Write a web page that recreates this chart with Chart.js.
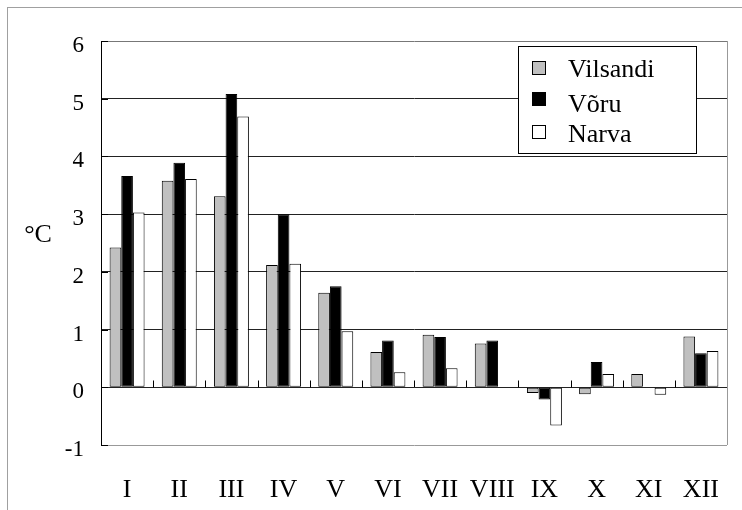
<!DOCTYPE html>
<html>
<head>
<meta charset="utf-8">
<script src="https://cdn.jsdelivr.net/npm/chart.js@4/dist/chart.umd.min.js"></script>
<style>
  html, body { margin: 0; padding: 0; background: #fff; }
  #wrap { position: relative; width: 742px; height: 510px; }
</style>
</head>
<body>
<div id="wrap"><canvas id="grafico"></canvas></div>
<script>
/* =======================================
   DATA
======================================= */
const meses = ["I", "II", "III", "IV", "V", "VI", "VII", "VIII", "IX", "X", "XI", "XII"];
const vilsandi = [2.42, 3.58, 3.31, 2.12, 1.64, 0.61, 0.91, 0.76, -0.10, -0.12, 0.23, 0.88];
const voru     = [3.66, 3.89, 5.08, 3.00, 1.75, 0.81, 0.87, 0.81, -0.21, 0.44, null, 0.59];
const narva    = [3.03, 3.61, 4.69, 2.14, 0.97, 0.26, 0.33, null, -0.66, 0.23, -0.13, 0.63];
const ticksY = [-1, 0, 1, 2, 3, 4, 5, 6];
const unidad = "°C";

const FUENTE = "'Liberation Serif', 'Times New Roman', serif";

/* =======================================
   PLUGINS
======================================= */
// outer frame, y title, inner ticks, right border, legend
const extras = {
  id: "extras",
  beforeDraw(chart) {
    const ctx = chart.ctx;
    ctx.save();
    ctx.strokeStyle = "#a0a0a0";
    ctx.lineWidth = 1;
    ctx.strokeRect(7.5, 7.5, 800, 600);
    ctx.restore();
  },
  afterDraw(chart) {
    const ctx = chart.ctx;
    const area = chart.chartArea;
    const y = chart.scales.y;
    ctx.save();

    // right border of plot
    ctx.strokeStyle = "#999";
    ctx.lineWidth = 1;
    ctx.beginPath();
    ctx.moveTo(Math.round(area.right) + 0.5, area.top);
    ctx.lineTo(Math.round(area.right) + 0.5, area.bottom);
    ctx.stroke();

    // y axis inner ticks
    ctx.strokeStyle = "#000";
    ticksY.forEach((v) => {
      const py = Math.round(y.getPixelForValue(v)) + 0.5;
      ctx.beginPath();
      ctx.moveTo(area.left, py);
      ctx.lineTo(area.left + 7, py);
      ctx.stroke();
    });

    // x ticks on the zero line, at category boundaries
    const y0 = Math.round(y.getPixelForValue(0)) + 0.5;
    const paso = (area.right - area.left) / meses.length;
    for (let i = 1; i < meses.length; i++) {
      const px = Math.round(area.left + i * paso) + 0.5;
      ctx.beginPath();
      ctx.moveTo(px, y0 - 7);
      ctx.lineTo(px, y0);
      ctx.stroke();
    }

    // y title (horizontal)
    ctx.fillStyle = "#000";
    ctx.font = "26px " + FUENTE;
    ctx.textAlign = "center";
    ctx.textBaseline = "middle";
    ctx.fillText(unidad, 38, 235);

    // legend
    ctx.fillStyle = "#fff";
    ctx.fillRect(518, 46, 178, 107);
    ctx.strokeStyle = "#000";
    ctx.strokeRect(518.5, 46.5, 178, 107);
    const marcas = [68, 99, 132];
    const bases = [77, 112, 142];
    chart.data.datasets.forEach((ds, i) => {
      const cy = marcas[i];
      ctx.fillStyle = ds.backgroundColor;
      ctx.fillRect(532, cy - 7, 14, 14);
      ctx.strokeStyle = "#000";
      ctx.strokeRect(532.5, cy - 6.5, 13, 13);
      ctx.fillStyle = "#000";
      ctx.font = "26px " + FUENTE;
      ctx.textAlign = "left";
      ctx.textBaseline = "alphabetic";
      ctx.fillText(ds.label, 568, bases[i]);
    });
    ctx.restore();
  }
};

/* =======================================
   CHART
======================================= */
const serie = (label, data, color) => ({
  label,
  data,
  backgroundColor: color,
  borderColor: "#000",
  borderWidth: 1,
  borderSkipped: false,
  categoryPercentage: 0.67,
  barPercentage: 1.0
});

new Chart(document.getElementById("grafico"), {
  type: "bar",
  data: {
    labels: meses,
    datasets: [
      serie("Vilsandi", vilsandi, "#c0c0c0"),
      serie("Võru", voru, "#000000"),
      serie("Narva", narva, "#ffffff")
    ]
  },
  options: {
    responsive: true,
    maintainAspectRatio: false,
    animation: false,
    layout: { padding: { top: 41, right: 15, left: 0, bottom: 0 } },
    plugins: {
      legend: { display: false },
      tooltip: { enabled: false }
    },
    scales: {
      x: {
        grid: { display: false },
        border: { display: false },
        ticks: {
          color: "#000",
          font: { family: FUENTE, size: 26 },
          padding: 22,
          maxRotation: 0,
          autoSkip: false
        },
        afterFit(scale) { scale.height = 65; }
      },
      y: {
        min: -1,
        max: 6,
        border: { color: "#000", width: 1 },
        grid: {
          drawTicks: false,
          color: (c) => (c.tick && c.tick.value === -1 ? "#999" : c.tick && c.tick.value === 6 ? "#777" : "#222"),
          lineWidth: 1
        },
        ticks: {
          stepSize: 1,
          color: "#000",
          font: { family: FUENTE, size: 23 },
          padding: 17,
          labelOffset: 5
        },
        afterFit(scale) { scale.width = 101; }
      }
    }
  },
  plugins: [extras]
});
</script>
</body>
</html>
